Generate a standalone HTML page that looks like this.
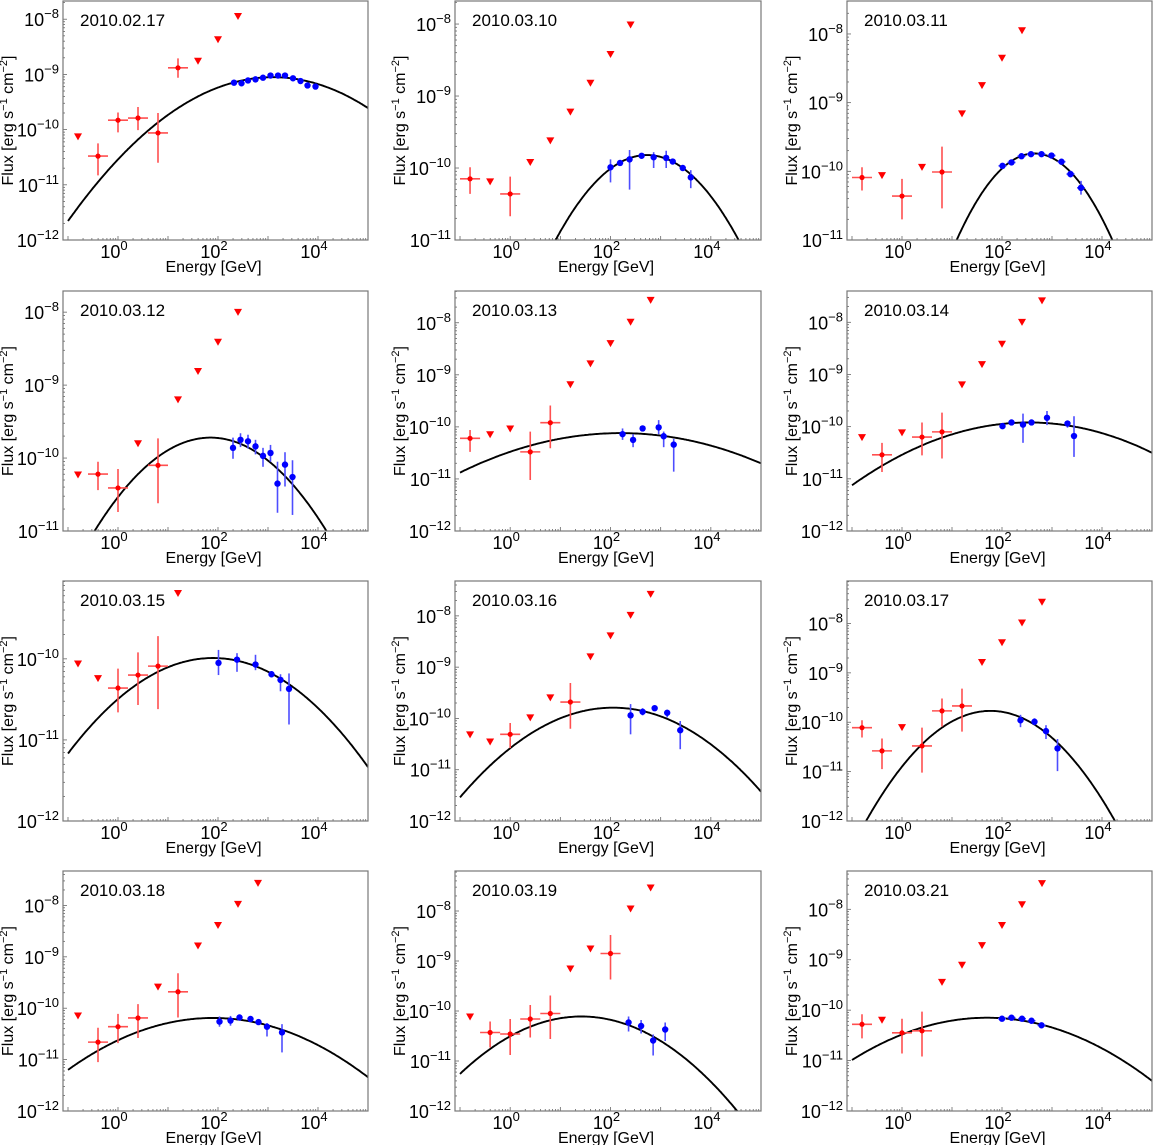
<!DOCTYPE html>
<html><head><meta charset="utf-8"><style>
html,body{margin:0;padding:0;background:#fff}
svg{display:block;font-family:"Liberation Sans",sans-serif}
</style></head><body>
<svg id="fig" width="1153" height="1145" viewBox="0 0 1153 1145" xmlns="http://www.w3.org/2000/svg"></svg>
<script>
// ---- data (log10 of energy in GeV and log10 of flux in erg s^-1 cm^-2) ----
const dates = ["2010.02.17","2010.03.10","2010.03.11","2010.03.12","2010.03.13","2010.03.14","2010.03.15","2010.03.16","2010.03.17","2010.03.18","2010.03.19","2010.03.21"];
const yMinLog = [-12,-11,-11,-11,-12,-12,-12,-12,-12,-12,-12,-12];
const yMaxLog = [-7.67,-7.68,-7.52,-7.71,-7.39,-7.40,-9.04,-7.32,-7.14,-7.33,-7.2,-7.24];
const curvePeakE = [3.1,2.73,2.65,1.85,2.2,2.54,1.9,2.05,1.77,1.9,1.42,1.7];
const curvePeakF = [-9.05,-9.82,-9.74,-9.72,-10.12,-9.92,-9.99,-9.79,-9.77,-10.19,-10.11,-10.15];
const curveB = [0.155,0.355,0.52,0.238,0.074,0.096,0.14,0.188,0.36,0.12,0.196,0.115];
const ulE = [
 [-0.8,1.6,2.0,2.4],
 [-0.4,0.4,0.8,1.2,1.6,2.0,2.4],
 [-0.4,0.4,1.2,1.6,2.0,2.4],
 [-0.8,0.4,1.2,1.6,2.0,2.4],
 [-0.4,0,1.2,1.6,2.0,2.4,2.8],
 [-0.8,0,1.2,1.6,2.0,2.4,2.8],
 [-0.8,-0.4,1.2],
 [-0.8,-0.4,0.4,0.8,1.6,2.0,2.4,2.8],
 [0,1.6,2.0,2.4,2.8],
 [-0.8,0.8,1.6,2.0,2.4,2.8],
 [-0.8,1.2,1.6,2.4,2.8],
 [-0.4,0.8,1.2,1.6,2.0,2.4,2.8]];
const ulF = [
 [-10.14,-8.77,-8.38,-7.96],
 [-10.20,-9.93,-9.63,-9.23,-8.83,-8.43,-8.02],
 [-10.07,-9.95,-9.17,-8.76,-8.36,-7.96],
 [-10.24,-9.81,-9.21,-8.82,-8.42,-8.01],
 [-10.16,-10.05,-9.20,-8.80,-8.41,-8.0,-7.58],
 [-10.22,-10.13,-9.21,-8.82,-8.43,-8.01,-7.60],
 [-10.07,-10.25,-9.20],
 [-10.33,-10.47,-10.0,-9.61,-8.81,-8.40,-8.0,-7.59],
 [-10.12,-8.80,-8.40,-8.0,-7.58],
 [-10.16,-9.60,-8.80,-8.40,-7.99,-7.58],
 [-10.13,-9.17,-8.77,-7.97,-7.55],
 [-10.21,-9.46,-9.12,-8.73,-8.33,-7.92,-7.50]];
const redE = [
 [-0.4,0,0.4,0.8,1.2],[-0.8,0],[-0.8,0,0.8],[-0.4,0,0.8],[-0.8,0.4,0.8],[-0.4,0.4,0.8],
 [0,0.4,0.8],[0,1.2],[-0.8,-0.4,0.4,0.8,1.2],[-0.4,0,0.4,1.2],[-0.4,0,0.4,0.8,2.0],[-0.8,0,0.4]];
const redF = [
 [-10.48,-9.83,-9.79,-10.06,-8.88],[-10.15,-10.36],[-10.09,-10.36,-10.01],[-10.22,-10.41,-10.10],
 [-10.22,-10.48,-9.92],[-10.54,-10.20,-10.10],[-10.36,-10.20,-10.09],[-10.31,-9.68],
 [-10.11,-10.58,-10.48,-9.77,-9.67],[-10.66,-10.36,-10.19,-9.68],[-10.43,-10.46,-10.16,-10.05,-8.85],[-10.28,-10.45,-10.41]];
const redHi = [
 [-10.25,-9.69,-9.59,-9.70,-8.71],[-9.99,-10.12],[-9.94,-10.11,-9.64],[-10.05,-10.15,-9.73],
 [-10.06,-10.09,-9.59],[-10.31,-9.92,-9.73],[-10.12,-9.92,-9.72],[-10.09,-9.31],
 [-9.96,-10.33,-10.11,-9.52,-9.32],[-10.38,-10.11,-9.92,-9.32],[-10.21,-10.16,-9.88,-9.69,-8.48],[-10.08,-10.17,-10.03]];
const redLo = [
 [-10.83,-10.05,-10.01,-10.6,-9.06],[-10.36,-10.67],[-10.28,-10.70,-10.54],[-10.44,-10.74,-10.62],
 [-10.48,-11.02,-10.41],[-10.87,-10.55,-10.61],[-10.66,-10.57,-10.62],[-10.58,-10.20],
 [-10.31,-10.95,-11.02,-10.09,-10.19],[-11.05,-10.68,-10.58,-10.18],[-10.73,-10.88,-10.53,-10.56,-9.37],[-10.56,-10.86,-10.92]];
const blueE = [
 [2.32,2.47,2.60,2.75,2.90,3.05,3.20,3.34,3.50,3.65,3.79,3.95],
 [2.0,2.19,2.38,2.62,2.86,3.11,3.24,3.44,3.60],
 [2.01,2.19,2.39,2.58,2.79,2.99,3.19,3.37,3.58],
 [2.30,2.45,2.60,2.75,2.90,3.05,3.19,3.34,3.49],
 [2.24,2.45,2.64,2.96,3.06,3.26],
 [2.01,2.19,2.42,2.59,2.90,3.31,3.44],
 [2.01,2.38,2.75,3.07,3.25,3.42],
 [2.40,2.64,2.88,3.13,3.39],
 [2.37,2.65,2.88,3.11],
 [2.03,2.25,2.43,2.65,2.81,2.98,3.28],
 [2.36,2.61,2.85,3.09],
 [2.0,2.19,2.40,2.59,2.79]];
const blueF = [
 [-9.15,-9.16,-9.11,-9.09,-9.06,-9.02,-9.02,-9.02,-9.07,-9.12,-9.20,-9.22],
 [-9.99,-9.93,-9.88,-9.83,-9.85,-9.86,-9.91,-10.00,-10.13],
 [-9.92,-9.87,-9.78,-9.75,-9.75,-9.77,-9.86,-10.04,-10.24],
 [-9.86,-9.75,-9.77,-9.84,-9.97,-9.93,-10.35,-10.09,-10.26],
 [-10.14,-10.25,-10.03,-10.01,-10.18,-10.34],
 [-9.99,-9.92,-9.96,-9.92,-9.83,-9.94,-10.18],
 [-10.05,-10.01,-10.07,-10.19,-10.26,-10.37],
 [-9.94,-9.87,-9.80,-9.89,-10.23],
 [-9.96,-9.99,-10.18,-10.53],
 [-10.26,-10.24,-10.18,-10.21,-10.27,-10.36,-10.47],
 [-10.23,-10.30,-10.59,-10.37],
 [-10.17,-10.15,-10.17,-10.21,-10.30]];
const blueHi = [
 [-9.13,-9.14,-9.09,-9.07,-9.04,-9.0,-9.0,-9.0,-9.05,-9.10,-9.18,-9.20],
 [-9.88,-9.91,-9.75,-9.81,-9.78,-9.76,-9.89,-9.98,-10.03],
 [-9.89,-9.84,-9.75,-9.72,-9.72,-9.74,-9.82,-9.99,-10.14],
 [-9.72,-9.66,-9.68,-9.75,-9.86,-9.82,-10.05,-9.92,-10.03],
 [-10.03,-10.14,-9.98,-9.87,-10.09,-10.23],
 [-9.94,-9.89,-9.75,-9.88,-9.70,-9.88,-9.80],
 [-9.89,-9.93,-9.95,-10.15,-10.19,-10.18],
 [-9.72,-9.80,-9.76,-9.83,-10.05],
 [-9.85,-9.92,-10.06,-10.34],
 [-10.16,-10.15,-10.13,-10.17,-10.22,-10.29,-10.31],
 [-10.11,-10.18,-10.47,-10.23],
 [-10.14,-10.12,-10.14,-10.18,-10.27]];
const blueLo = [
 [-9.17,-9.18,-9.13,-9.11,-9.08,-9.04,-9.04,-9.04,-9.09,-9.14,-9.22,-9.24],
 [-10.20,-9.95,-10.30,-9.85,-10.0,-10.0,-9.93,-10.02,-10.28],
 [-9.95,-9.90,-9.81,-9.78,-9.78,-9.80,-9.90,-10.09,-10.34],
 [-10.01,-9.85,-9.87,-9.95,-10.12,-10.05,-10.75,-10.39,-10.78],
 [-10.25,-10.39,-10.08,-10.14,-10.39,-10.86],
 [-10.04,-9.95,-10.31,-9.96,-9.97,-10.02,-10.58],
 [-10.20,-10.16,-10.14,-10.23,-10.40,-10.81],
 [-10.31,-9.94,-9.84,-9.98,-10.60],
 [-10.10,-10.06,-10.34,-10.99],
 [-10.36,-10.34,-10.24,-10.25,-10.32,-10.55,-10.86],
 [-10.41,-10.45,-10.89,-10.60],
 [-10.20,-10.18,-10.20,-10.24,-10.33]];
const blueXErr = [0,0,0.08,0,0,0,0,0,0,0,0,0.08];
const redXErr = 0.2;
const xTickLog = [0,2,4];
const xMinLog = -1.1, xMaxLog = 5.0;

// ---- layout ----
const colL=[63,455,847], colR=[368,761,1152];
const rowT=[1,291,581,871], rowB=[240,531,821,1111];
const NS="http://www.w3.org/2000/svg";
const svg=document.getElementById('fig');
function mk(tag,attrs,parent){const e=document.createElementNS(NS,tag);for(const k in attrs)e.setAttribute(k,attrs[k]);(parent||svg).appendChild(e);return e;}
function sup(textEl,base,exp,fs){
  const t1=document.createElementNS(NS,'tspan');t1.textContent=base;textEl.appendChild(t1);
  const t2=document.createElementNS(NS,'tspan');t2.setAttribute('dy','-8');t2.setAttribute('font-size',fs);t2.textContent=exp;textEl.appendChild(t2);
}
function fmtExp(n){return n<0?'\u2212'+(-n):String(n);}

for(let p=0;p<12;p++){
  const c=p%3, r=Math.floor(p/3);
  const L=colL[c],R=colR[c],T=rowT[r],B=rowB[r];
  const y0=yMinLog[p],y1=yMaxLog[p];
  const xs=l=>L+(l-xMinLog)/(xMaxLog-xMinLog)*(R-L);
  const ys=l=>B-(l-y0)/(y1-y0)*(B-T);
  const g=mk('g',{});
  
  
  const clipId='clip'+p;
  const cp=mk('clipPath',{id:clipId},g);
  mk('rect',{x:L,y:T,width:R-L,height:B-T},cp);

  for(let e=Math.ceil(y0-1);e<=Math.floor(y1);e++){
    for(let k=1;k<10;k++){
      const lv=e+Math.log10(k);
      if(lv<y0-1e-6||lv>y1+1e-6)continue;
      const yy=ys(lv), len=k===1?4:2;
      const tk=mk('line',{x1:L,x2:L+len,y1:yy,y2:yy,stroke:'#666','stroke-width':0.8},g);
      
      
      if(k===1){
        const t=mk('text',{x:L-4,y:yy+7,'text-anchor':'end','font-size':18,fill:'#000'},g);
        
        
        sup(t,'10',fmtExp(e),13);
      }
    }
  }
  for(let e=-1;e<=5;e++){
    for(let k=1;k<10;k++){
      const lv=e+Math.log10(k);
      if(lv<xMinLog||lv>xMaxLog)continue;
      const xx=xs(lv), len=k===1?4:2;
      const tk=mk('line',{x1:xx,x2:xx,y1:B,y2:B-len,stroke:'#666','stroke-width':0.8},g);
      
      
    }
  }
  xTickLog.forEach(v=>{
    const t=mk('text',{x:xs(v)-4,y:B+18,'text-anchor':'middle','font-size':18,fill:'#000'},g);
    
    
    sup(t,'10',fmtExp(v),13);
  });

  const pts=[];
  for(let i=0;i<=240;i++){const lx=-1.0+6.0*i/240;const ly=curvePeakF[p]-curveB[p]*(lx-curvePeakE[p])**2;pts.push(xs(lx).toFixed(1)+','+ys(ly).toFixed(1));}
  const cv=mk('polyline',{points:pts.join(' '),fill:'none',stroke:'#000','stroke-width':1.9,'clip-path':'url(#'+clipId+')'},g);
  
  

  ulE[p].forEach((e,i)=>{
    const x=xs(e),y=ys(ulF[p][i]);
    const tr=mk('polygon',{points:`${x-4},${y-4} ${x+4},${y-4} ${x},${y+3}`,fill:'#ff0000','clip-path':'url(#'+clipId+')'},g);
    
    
  });
  redE[p].forEach((e,i)=>{
    const x=xs(e),y=ys(redF[p][i]);
    const eb=mk('path',{d:`M${xs(e-redXErr)},${y}H${xs(e+redXErr)}M${x},${ys(redHi[p][i])}V${ys(redLo[p][i])}`,stroke:'#ff5050','stroke-width':1.6,fill:'none','clip-path':'url(#'+clipId+')'},g);
    
    
    const dt=mk('circle',{cx:x,cy:y,r:2.6,fill:'#ff0000'},g);
    
    
  });
  blueE[p].forEach((e,i)=>{
    const x=xs(e),y=ys(blueF[p][i]);
    let d=`M${x},${ys(blueHi[p][i])}V${ys(blueLo[p][i])}`;
    if(blueXErr[p]>0)d+=`M${xs(e-blueXErr[p])},${y}H${xs(e+blueXErr[p])}`;
    const eb=mk('path',{d:d,stroke:'#4d4dff','stroke-width':1.6,fill:'none'},g);
    
    
    const dt=mk('circle',{cx:x,cy:y,r:3.2,fill:'#0000ff'},g);
    
    
  });

  const fr=mk('rect',{x:L,y:T,width:R-L,height:B-T,fill:'none',stroke:'#777','stroke-width':1.2},g);
  
  
  const dl=mk('text',{x:L+17,y:T+25,'font-size':17,fill:'#000'},g);
  dl.textContent=dates[p];
  
  
  const xt=mk('text',{x:(L+R)/2-2,y:B+32,'text-anchor':'middle','font-size':16,fill:'#000'},g);
  xt.textContent='Energy [GeV]';
  
  
  const yc=(T+B)/2, yx=L-50;
  const yt=mk('text',{x:yx,y:yc,'text-anchor':'middle','font-size':16,fill:'#000',transform:`rotate(-90 ${yx} ${yc})`},g);
  
  
  const a=document.createElementNS(NS,'tspan');a.textContent='Flux [erg s';yt.appendChild(a);
  const b=document.createElementNS(NS,'tspan');b.setAttribute('dy','-6');b.setAttribute('font-size','11');b.textContent='\u22121';yt.appendChild(b);
  const cc=document.createElementNS(NS,'tspan');cc.setAttribute('dy','6');cc.textContent=' cm';yt.appendChild(cc);
  const d2=document.createElementNS(NS,'tspan');d2.setAttribute('dy','-6');d2.setAttribute('font-size','11');d2.textContent='\u22122';yt.appendChild(d2);
  const e2=document.createElementNS(NS,'tspan');e2.setAttribute('dy','6');e2.textContent=']';yt.appendChild(e2);
}
</script>
</body></html>
